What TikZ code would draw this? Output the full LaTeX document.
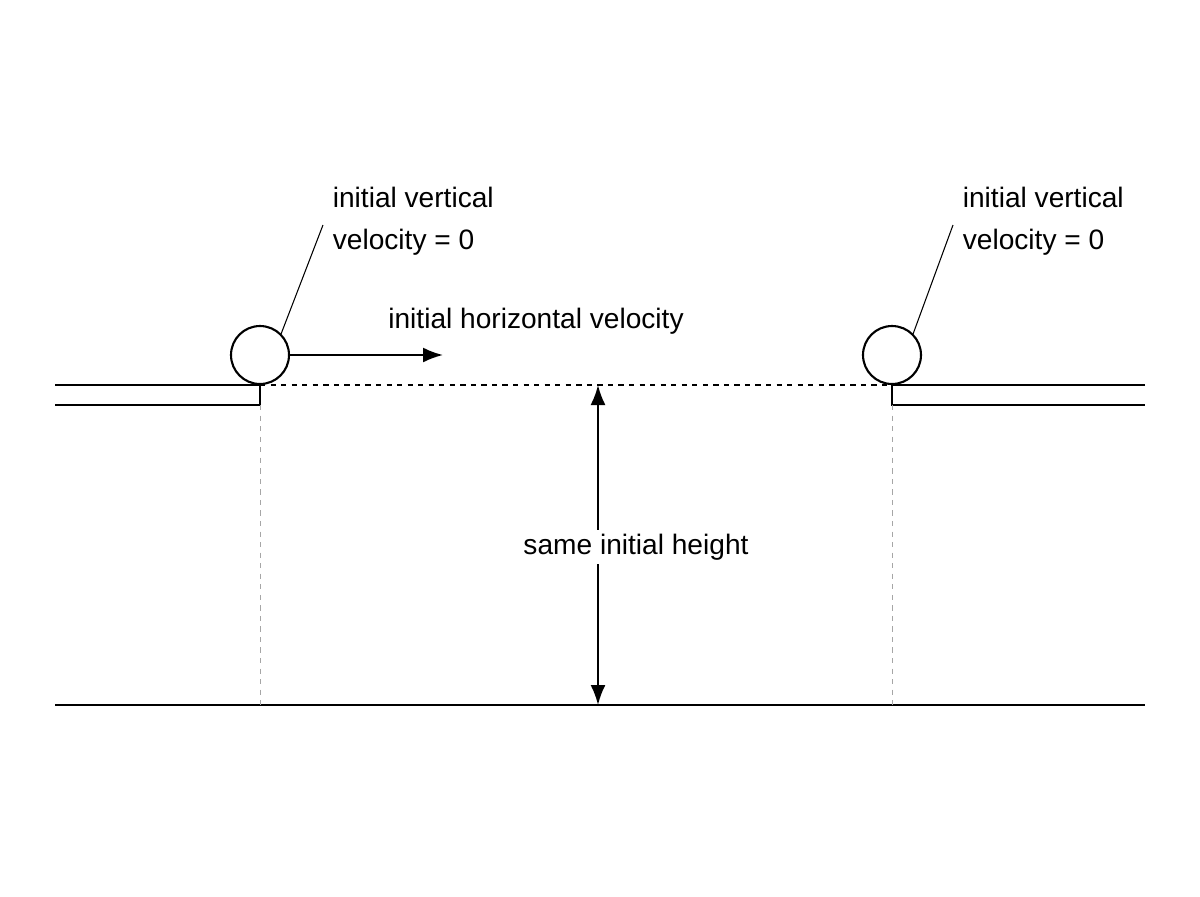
\documentclass[tikz,border=0pt]{standalone}
\usepackage{fontspec}
\setmainfont{Liberation Sans}
\usetikzlibrary{arrows.meta,positioning}
\tikzset{
    % Ball on a ledge
    ball/.style={circle, draw, line width=1.2pt, minimum size=1.16cm, inner sep=0pt, fill=white},
    % Solid outline
    edge line/.style={line width=1.2pt},
    % Guide lines
    guide/.style={dashed, gray!70, line width=0.5pt},
    % Arrow style
    velarrow/.style={-{Latex[length=0.4cm,width=0.3cm]}, line width=1.2pt},
    % Labels
    lbl/.style={font=\fontsize{16}{24}\selectfont, align=left, inner sep=2pt}
}
\begin{document}
\begin{tikzpicture}[x=0.02cm, y=-0.02cm]
    \useasboundingbox (0,0) rectangle (1200,896);

    % Reference points
    \coordinate (ltop) at (260,385);
    \coordinate (rtop) at (892,385);
    \coordinate (lfoot) at (260,705);
    \coordinate (rfoot) at (892,705);
    \coordinate (htop) at (598,385);
    \coordinate (hbot) at (598,705);

    % Ledges and ground
    \draw[edge line] (55,385) -- (ltop) -- (260,405) -- (55,405);
    \draw[edge line] (1145,385) -- (rtop) -- (892,405) -- (1145,405);
    \draw[edge line] (55,705) -- (1145,705);

    % Guide lines
    \draw[dashed, line width=0.8pt] (ltop) -- (rtop);
    \draw[guide] (260,405) -- (lfoot);
    \draw[guide] (892,405) -- (rfoot);

    % Balls
    \node[ball] (lball) at (260,355) {};
    \node[ball] (rball) at (892,355) {};

    % Horizontal velocity
    \coordinate (vend) at (443,355);
    \draw[velarrow] (lball.east) -- (vend);
    \node[lbl] (hvel) at (536,321) {initial horizontal velocity};

    % Height
    \draw[{Latex[length=0.4cm,width=0.3cm]}-{Latex[length=0.4cm,width=0.3cm]}, line width=1.2pt] (htop) -- (hbot);
    \node[lbl, fill=white] (height) at (636,547) {same initial height};

    % Callouts
    \node[lbl, anchor=west] (lnote) at (329,221) {initial vertical\\velocity = 0};
    \node[lbl, anchor=west] (rnote) at (959,221) {initial vertical\\velocity = 0};
    \draw[line width=0.6pt] (lball.north east) ++(-0.1,0) -- (323,225);
    \draw[line width=0.6pt] (rball.north east) ++(-0.1,0) -- (953,225);
\end{tikzpicture}
\end{document}
